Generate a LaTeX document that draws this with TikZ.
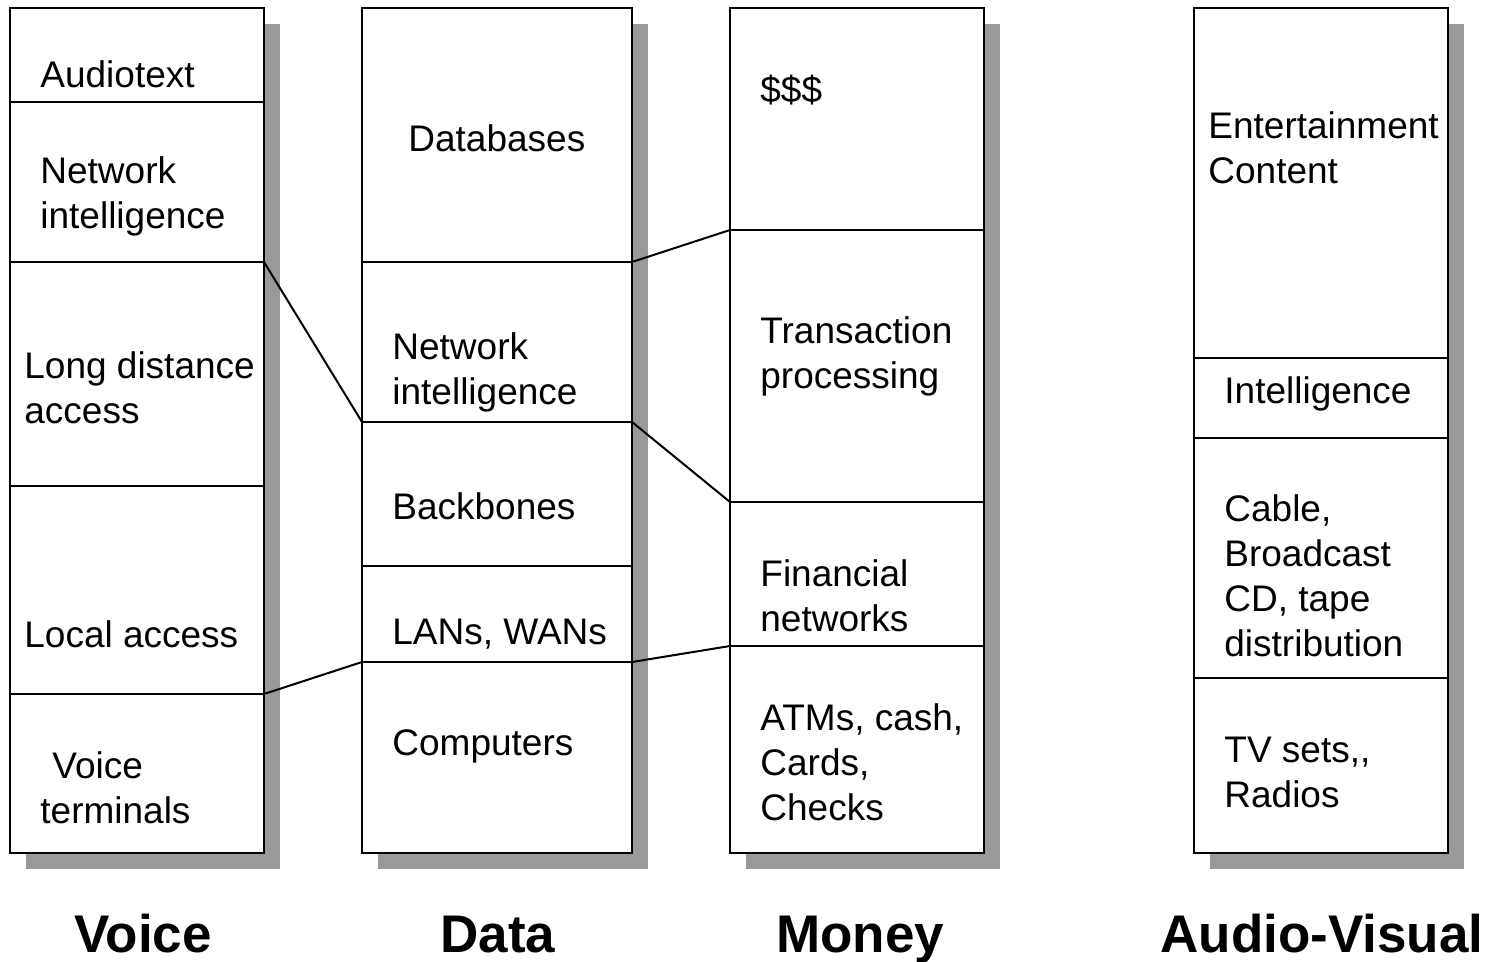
\documentclass[tikz,border=0pt]{standalone}
\usepackage{fontspec}
\setmainfont{Liberation Sans}
\begin{document}
\begin{tikzpicture}[x=0.5pt,y=-0.5pt,
  shadow/.style={fill=black!40,draw=none},
  colbox/.style={draw=black,fill=white,line width=1pt},
  divider/.style={draw=black,line width=1pt},
  link/.style={draw=black,line width=1pt},
  lbl/.style={anchor=west,align=left,inner sep=0pt,font=\fontsize{18.5}{22.5}\selectfont},
  title/.style={anchor=base,inner sep=0pt,font=\fontsize{26.5}{30}\selectfont\bfseries}]
\useasboundingbox (0,0) rectangle (1498,962);
% shadows
\fill[shadow] (26,24) rectangle (280,869);
\fill[shadow] (378,24) rectangle (648,869);
\fill[shadow] (746,24) rectangle (1000,869);
\fill[shadow] (1210,24) rectangle (1464,869);
% columns
\draw[colbox] (10,8) rectangle (264,853);
\draw[colbox] (362,8) rectangle (632,853);
\draw[colbox] (730,8) rectangle (984,853);
\draw[colbox] (1194,8) rectangle (1448,853);
% named divider ends
\coordinate (v1L) at (10,102);  \coordinate (v1R) at (264,102);
\coordinate (v2L) at (10,262);  \coordinate (v2R) at (264,262);
\coordinate (v3L) at (10,486);  \coordinate (v3R) at (264,486);
\coordinate (v4L) at (10,694);  \coordinate (v4R) at (264,694);
\coordinate (d1L) at (362,262); \coordinate (d1R) at (632,262);
\coordinate (d2L) at (362,422); \coordinate (d2R) at (632,422);
\coordinate (d3L) at (362,566); \coordinate (d3R) at (632,566);
\coordinate (d4L) at (362,662); \coordinate (d4R) at (632,662);
\coordinate (m1L) at (730,230); \coordinate (m1R) at (984,230);
\coordinate (m2L) at (730,502); \coordinate (m2R) at (984,502);
\coordinate (m3L) at (730,646); \coordinate (m3R) at (984,646);
\coordinate (a1L) at (1194,358); \coordinate (a1R) at (1448,358);
\coordinate (a2L) at (1194,438); \coordinate (a2R) at (1448,438);
\coordinate (a3L) at (1194,678); \coordinate (a3R) at (1448,678);
\foreach \c in {v1,v2,v3,v4,d1,d2,d3,d4,m1,m2,m3,a1,a2,a3}
  \draw[divider] (\c L) -- (\c R);
% connectors
\draw[link] (v2R) -- (d2L);
\draw[link] (v4R) -- (d4L);
\draw[link] (d1R) -- (m1L);
\draw[link] (d2R) -- (m2L);
\draw[link] (d4R) -- (m3L);
% voice labels
\node[lbl] (vt1) at (40,74) {Audiotext};
\node[lbl] (vt2) at (40,196) {Network\\intelligence};
\node[lbl] (vt3) at (24,388) {Long distance\\access};
\node[lbl] (vt4) at (24,634) {Local access};
\node[lbl] (vt5) at (40,788) {\hspace*{6pt}Voice\\terminals};
% data labels
\node[lbl] (dt1) at (408,138) {Databases};
\node[lbl] (dt2) at (392,372) {Network\\intelligence};
\node[lbl] (dt3) at (392,506) {Backbones};
\node[lbl] (dt4) at (392,634) {LANs, WANs};
\node[lbl] (dt5) at (392,746) {Computers};
% money labels
\node[lbl] (mt1) at (760,90) {\$\$\$};
\node[lbl] (mt2) at (760,356) {Transaction\\processing};
\node[lbl] (mt3) at (760,596) {Financial\\networks};
\node[lbl] (mt4) at (760,762) {ATMs, cash,\\Cards,\\Checks};
% audio-visual labels
\node[lbl] (at1) at (1208,148) {Entertainment\\Content};
\node[lbl] (at2) at (1224,394) {Intelligence};
\node[lbl] (at3) at (1224,576) {Cable,\\Broadcast\\CD, tape\\distribution};
\node[lbl] (at4) at (1224,772) {TV sets,{},\\Radios};
% titles
\node[title] (tv) at (143,952) {Voice};
\node[title] (td) at (498,952) {Data};
\node[title] (tm) at (860,952) {Money};
\node[title] (ta) at (1322,952) {Audio-Visual};
\end{tikzpicture}
\end{document}
